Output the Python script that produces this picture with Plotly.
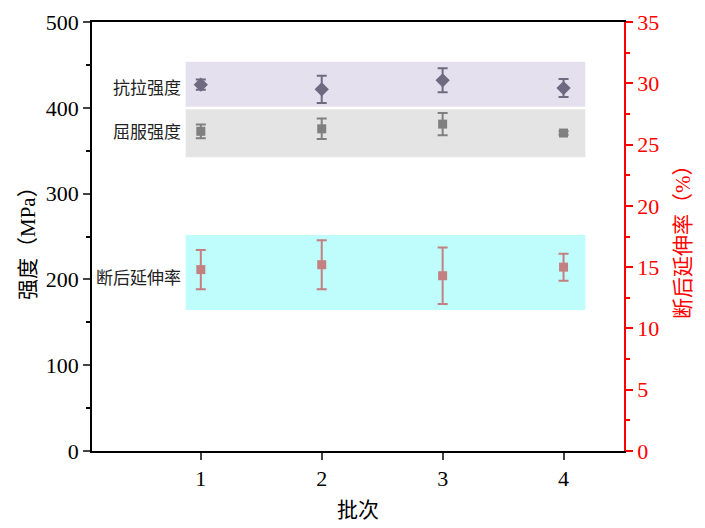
import plotly.graph_objects as go

batches = [1, 2, 3, 4]
tensile = [427, 421.5, 432, 423]
tensile_err = [6, 16, 14, 10.5]
yield_s = [372.6, 375.5, 381, 370.6]
yield_err = [8, 12, 13, 2]
elong = [14.8, 15.2, 14.3, 15.0]
elong_err = [1.6, 2.0, 2.3, 1.1]

band_x = [0.875, 4.18]
band_tensile = [401.3, 453.7]
band_yield = [342.3, 398.3]
band_elong = [164.3, 251.7]
label_y = [425, 373, 203]
label_text = ["抗拉强度", "屈服强度", "断后延伸率"]

c_t = "#6f6a80"
c_y = "#808080"
c_e = "#c48080"
RED = "#ff0000"
num_font = "Liberation Serif"
cjk_font = "Liberation Serif, Noto Sans CJK SC"

# page offset (browser body margin)
OFF = 8
W, H = 705 - OFF, 528 - OFF
L, R, T, B = 92 - OFF, 81, 22 - OFF, 77
pw, ph = W - L - R, H - T - B

fig = go.Figure()

for yr, col in [(band_tensile, "#e5e0ee"), (band_yield, "#e4e4e4"), (band_elong, "#bffcfc")]:
    fig.add_shape(type="rect", xref="x", yref="y", x0=band_x[0], x1=band_x[1],
                  y0=yr[0], y1=yr[1], fillcolor=col, line=dict(width=0), layer="below")

fig.add_trace(go.Scatter(x=batches, y=tensile, mode="markers",
                         marker=dict(symbol="diamond", size=11, color=c_t),
                         error_y=dict(type="data", array=tensile_err, color=c_t, thickness=2, width=5),
                         showlegend=False))
fig.add_trace(go.Scatter(x=batches, y=yield_s, mode="markers",
                         marker=dict(symbol="square", size=9, color=c_y),
                         error_y=dict(type="data", array=yield_err, color=c_y, thickness=2, width=5),
                         showlegend=False))
fig.add_trace(go.Scatter(x=batches, y=elong, mode="markers", yaxis="y2",
                         marker=dict(symbol="square", size=9, color=c_e),
                         error_y=dict(type="data", array=elong_err, color=c_e, thickness=2, width=5),
                         showlegend=False))

for txt, yv in zip(label_text, label_y):
    fig.add_annotation(x=band_x[0], y=yv, xref="x", yref="y", text=txt, showarrow=False,
                       xanchor="right", yanchor="middle", xshift=-3,
                       font=dict(family="Noto Sans CJK SC", size=17, color="#222222"))

# axis titles (positions given in page pixels)
titles = [("强度（MPa）", 28, 238, -90, "black"),
          ("断后延伸率（%）", 683, 237, -90, RED),
          ("批次", 358, 510, 0, "black")]
for txt, px, py, ang, col in titles:
    fig.add_annotation(x=(px - OFF - L) / pw, y=(H - B - (py - OFF)) / ph, xref="paper", yref="paper",
                       xanchor="center", yanchor="middle",
                       text=txt, showarrow=False, textangle=ang,
                       font=dict(family=cjk_font, size=21, color=col))

fig.update_layout(
    width=W, height=H,
    margin=dict(l=L, r=R, t=T, b=B, autoexpand=False),
    plot_bgcolor="white", paper_bgcolor="white",
    font=dict(family=num_font, size=22, color="black"),
    xaxis=dict(range=[0.1, 4.5], tickvals=batches, ticks="outside", ticklen=7, tickwidth=1.5, automargin=False,
               showline=True, linecolor="black", linewidth=1.5, mirror=True, showgrid=False, zeroline=False,
               tickfont=dict(family=num_font, size=22)),
    yaxis=dict(range=[0, 500], tickvals=[0, 100, 200, 300, 400, 500], ticks="outside", ticklen=7, tickwidth=1.5,
               automargin=False,
               minor=dict(tickvals=[50, 150, 250, 350, 450], ticks="outside", ticklen=4, tickwidth=1.5, tickcolor="black"),
               showline=True, linecolor="black", linewidth=1.5, showgrid=False, zeroline=False,
               tickfont=dict(family=num_font, size=22)),
    yaxis2=dict(range=[0, 35], overlaying="y", side="right", tickvals=[0, 5, 10, 15, 20, 25, 30, 35],
                ticks="outside", ticklen=7, tickwidth=1.5, tickcolor=RED, automargin=False,
                minor=dict(tickvals=[2.5, 7.5, 12.5, 17.5, 22.5, 27.5, 32.5], ticks="outside", ticklen=4,
                           tickwidth=1.5, tickcolor=RED),
                showline=True, linecolor=RED, linewidth=1.5, showgrid=False, zeroline=False,
                tickfont=dict(family=num_font, size=22, color=RED)),
)

fig.write_html("out.html")
